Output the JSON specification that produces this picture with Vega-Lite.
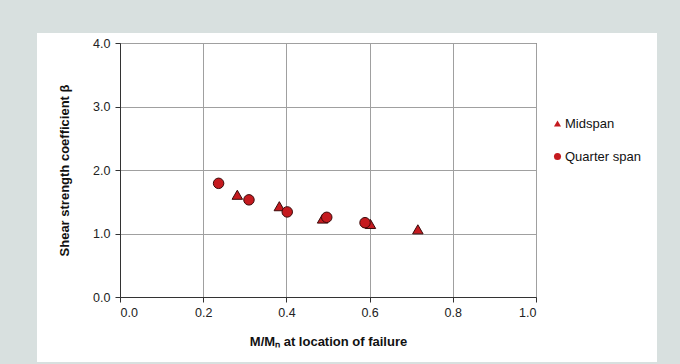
{
  "$schema": "https://vega.github.io/schema/vega-lite/v6.json",
  "autosize": "none",
  "width": 416,
  "height": 254,
  "padding": {"left": 120, "top": 43, "right": 144, "bottom": 67},
  "background": "white",
  "config": {
    "font": "Liberation Sans",
    "view": {"stroke": "#444", "strokeWidth": 1},
    "axis": {
      "grid": true,
      "labelFont": "Liberation Sans",
      "labelFontSize": 12.5,
      "labelColor": "#222",
      "titleFont": "Liberation Sans",
      "titleFontSize": 13,
      "titleFontWeight": "bold",
      "titleColor": "#111",
      "gridColor": "#a0a0a0",
      "gridWidth": 1,
      "gridOpacity": 1,
      "domainColor": "#333",
      "tickColor": "#333",
      "tickSize": 5
    }
  },
  "data": {
    "values": [
      {"x": 0.282, "beta": 1.61, "series": "Midspan"},
      {"x": 0.383, "beta": 1.43, "series": "Midspan"},
      {"x": 0.487, "beta": 1.235, "series": "Midspan"},
      {"x": 0.602, "beta": 1.15, "series": "Midspan"},
      {"x": 0.716, "beta": 1.066, "series": "Midspan"},
      {"x": 0.237, "beta": 1.79, "series": "Quarter span"},
      {"x": 0.310, "beta": 1.53, "series": "Quarter span"},
      {"x": 0.402, "beta": 1.34, "series": "Quarter span"},
      {"x": 0.497, "beta": 1.255, "series": "Quarter span"},
      {"x": 0.589, "beta": 1.17, "series": "Quarter span"}
    ]
  },
  "layer": [
    {
      "mark": {"type": "rect", "fill": null, "fillOpacity": 0, "stroke": "#d8e0df", "strokeWidth": 80, "clip": false},
      "encoding": {
        "x": {"datum": -0.2957, "type": "quantitative"},
        "x2": {"datum": 1.387},
        "y": {"datum": 4.787, "type": "quantitative"},
        "y2": {"datum": -1.654}
      }
    },
    {
      "mark": {"type": "point", "filled": true, "size": 110, "stroke": "#3b0a0a", "strokeWidth": 1, "opacity": 1},
      "encoding": {
        "x": {
          "field": "x", "type": "quantitative",
          "scale": {"domain": [0, 1], "nice": false},
          "axis": {"grid": true, "values": [0, 0.2, 0.4, 0.6, 0.8, 1.0], "format": ".1f", "labelPadding": 4, "titlePadding": 17, "title": "M/Mₙ at location of failure"}
        },
        "y": {
          "field": "beta", "type": "quantitative",
          "scale": {"domain": [0, 4], "nice": false},
          "axis": {"grid": true, "values": [0, 1, 2, 3, 4], "format": ".1f", "labelPadding": 5, "titlePadding": 21, "title": "Shear strength coefficient β"}
        },
        "shape": {
          "field": "series", "type": "nominal",
          "scale": {"domain": ["Midspan", "Quarter span"], "range": ["triangle-up", "circle"]},
          "legend": {
            "title": null,
            "orient": "none",
            "legendX": 431,
            "legendY": 74,
            "symbolSize": 50,
            "symbolFillColor": "#c51a1f",
            "symbolStrokeColor": "#3b0a0a",
            "symbolStrokeWidth": 1,
            "labelFont": "Liberation Sans",
            "labelFontSize": 13,
            "labelColor": "#111",
            "labelOffset": 1,
            "rowPadding": 19,
            "padding": 0
          }
        },
        "fill": {"value": "#c51a1f"}
      }
    }
  ]
}
